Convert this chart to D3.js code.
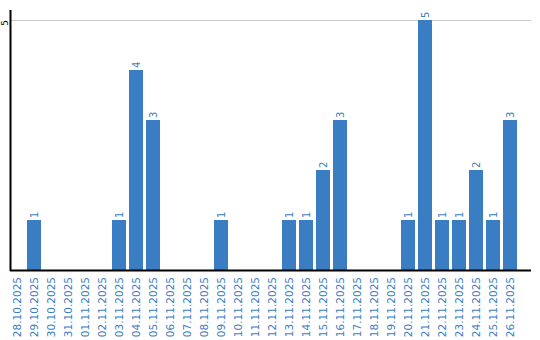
<!DOCTYPE html>
<html><head><meta charset="utf-8">
<script src="https://cdn.jsdelivr.net/npm/d3@7"></script>
<style>body{margin:0;background:#fff}svg{display:block}</style>
</head><body>
<script>
const categories = ["28.10.2025","29.10.2025","30.10.2025","31.10.2025","01.11.2025","02.11.2025","03.11.2025","04.11.2025","05.11.2025","06.11.2025","07.11.2025","08.11.2025","09.11.2025","10.11.2025","11.11.2025","12.11.2025","13.11.2025","14.11.2025","15.11.2025","16.11.2025","17.11.2025","18.11.2025","19.11.2025","20.11.2025","21.11.2025","22.11.2025","23.11.2025","24.11.2025","25.11.2025","26.11.2025"];
const values = [0,1,0,0,0,0,1,4,3,0,0,0,1,0,0,0,1,1,2,3,0,0,0,1,5,1,1,2,1,3];
const yTicks = [5];

const W = 540, H = 340;
const svg = d3.select("body").append("svg").attr("width", W).attr("height", H);
const font = "DejaVu Sans, Verdana, sans-serif";
const blue = "#3b7dc2";

const x = d3.scaleBand().domain(categories).range([10, 517]).paddingInner(3/17).paddingOuter(0).align(0);
const y = d3.scaleLinear().domain([0, 5]).range([270, 20]);
const data = values.map((v,i)=>({c:categories[i],v}));

// gridlines
svg.selectAll("line.grid").data(yTicks).enter().append("line")
  .attr("x1", 10).attr("x2", 531).attr("y1", d => y(d)).attr("y2", d => y(d))
  .attr("stroke", "#cccccc").attr("stroke-width", 1).attr("shape-rendering", "crispEdges");

// y tick labels
svg.selectAll("text.yt").data(yTicks).enter().append("text")
  .attr("transform", d => `translate(7.5,${y(d)}) rotate(-90)`)
  .attr("text-anchor", "end").attr("font-family", font).attr("font-size", 9).attr("fill", "#000")
  .text(d => d);

// bars
svg.selectAll("rect.bar").data(data.filter(d=>d.v>0)).enter().append("rect")
  .attr("x", d => x(d.c)).attr("width", x.bandwidth())
  .attr("y", d => y(d.v)).attr("height", d => y(0) - y(d.v))
  .attr("fill", blue).attr("shape-rendering", "crispEdges");

// value labels
svg.selectAll("text.val").data(data.filter(d=>d.v>0)).enter().append("text")
  .attr("transform", d => `translate(${x(d.c) + x.bandwidth()/2 + 3.5},${y(d.v) - 2}) rotate(-90)`)
  .attr("text-anchor", "start").attr("font-family", font).attr("font-size", 10).attr("fill", blue)
  .text(d => d.v);

// axes lines
svg.append("line").attr("x1", 10.5).attr("x2", 10.5).attr("y1", 10).attr("y2", 271)
  .attr("stroke", "#000").attr("stroke-width", 2);
svg.append("line").attr("x1", 10).attr("x2", 531).attr("y1", 270.5).attr("y2", 270.5)
  .attr("stroke", "#000").attr("stroke-width", 2);

// x labels
svg.selectAll("text.xl").data(categories).enter().append("text")
  .attr("transform", d => `translate(${x(d) + x.bandwidth()/2 + 3.5},277) rotate(-90)`)
  .attr("text-anchor", "end").attr("font-family", font).attr("font-size", 10.5).attr("fill", blue)
  .text(d => d);
</script>
</body></html>
